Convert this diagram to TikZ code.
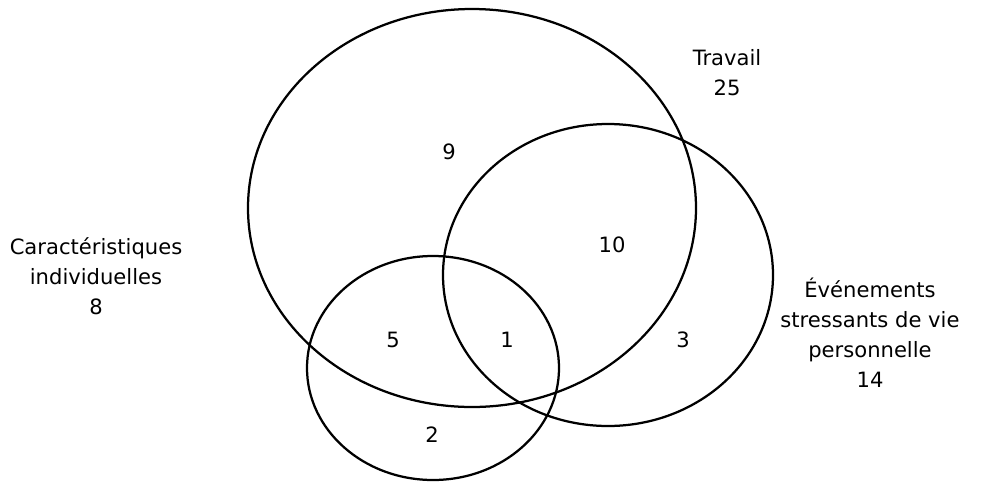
\documentclass[tikz,border=0pt]{standalone}
\usepackage{fontspec}
\setmainfont{DejaVu Sans}
\usepackage{tikz}

\begin{document}
\begin{tikzpicture}[x=0.025cm,y=-0.025cm,
    setline/.style={line width=1.6pt,black},
    lbl/.style={font=\fontsize{15}{21.3}\selectfont,align=center,inner sep=0pt}]
    \useasboundingbox (0,0) rectangle (987,482);
    % the three sets
    \draw[setline] (472,208) ellipse [x radius=224,y radius=199];
    \draw[setline] (608,275) ellipse [x radius=165,y radius=151];
    \draw[setline] (433,368) ellipse [x radius=126,y radius=112];
    % set names
    \node[lbl] (travail) at (727,73) {Travail\\25};
    \node[lbl] (carac) at (96,276) {Caractéristiques\\individuelles\\8};
    \node[lbl] (evt) at (870,333) {Événements\\stressants de vie\\personnelle\\14};
    % region counts
    \node[lbl] (n9) at (449,152) {9};
    \node[lbl] (n10) at (612,245) {10};
    \node[lbl] (n5) at (393,340) {5};
    \node[lbl] (n1) at (507,340) {1};
    \node[lbl] (n3) at (683,340) {3};
    \node[lbl] (n2) at (432,435) {2};
  \end{tikzpicture}
\end{document}
